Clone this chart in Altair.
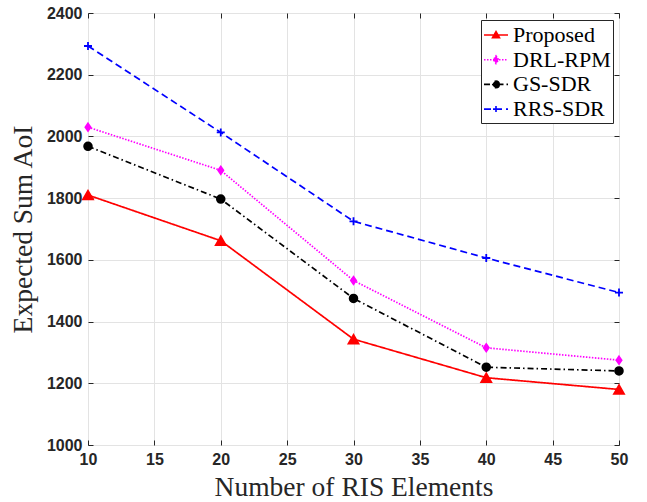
import altair as alt
import pandas as pd

x_vals = [10, 20, 30, 40, 50]
proposed = [1810, 1662, 1343, 1218, 1180]
drl_rpm = [2030, 1890, 1533, 1315, 1275]
gs_sdr = [1968, 1797, 1475, 1252, 1240]
rrs_sdr = [2293, 2013, 1725, 1606, 1494]

series_names = ["Proposed", "DRL-RPM", "GS-SDR", "RRS-SDR"]
colors = ["#FF0000", "#FF00FF", "#000000", "#0000FF"]
dashes = [[1, 0], [1.5, 1.5], [6, 3, 1.5, 3], [7, 4]]
x_ticks = [10, 15, 20, 25, 30, 35, 40, 45, 50]
y_ticks = [1000, 1200, 1400, 1600, 1800, 2000, 2200, 2400]

rows = []
for name, vals in zip(series_names, [proposed, drl_rpm, gs_sdr, rrs_sdr]):
    for xv, yv in zip(x_vals, vals):
        rows.append({"x": xv, "y": yv, "series": name})
df = pd.DataFrame(rows)

DIAMOND = "M0,-1L0.7,0L0,1L-0.7,0Z"
PLUS = "M-1,0L1,0M0,-1L0,1"
point_shapes = ["triangle-up", DIAMOND, "circle", PLUS]
point_sizes = [100, 56, 60, 64]

leg_paths = {
    "Proposed": "M-1,0L1,0M0,-0.28L0.29,0.22L-0.29,0.22Z",
    "DRL-RPM": "M-1,0L1,0M0,-0.32L0.22,0L0,0.32L-0.22,0Z",
    "GS-SDR": "M-1,0L1,0M0.27,0A0.27,0.27,0,1,1,-0.27,0A0.27,0.27,0,1,1,0.27,0Z",
    "RRS-SDR": "M-1,0L1,0M-0.25,0L0.25,0M0,-0.25L0,0.25",
}
shape_expr = " : ".join(
    [f"datum.value === '{k}' ? '{v}'" for k, v in leg_paths.items()]
) + " : 'circle'"
fill_expr = " : ".join(
    [f"datum.value === '{k}' ? '{c}'" for k, c in zip(series_names, colors)]
) + " : 'black'"
dash_expr = " : ".join(
    [f"datum.value === '{k}' ? [{','.join(str(v) for v in d)}]" for k, d in zip(series_names, dashes)]
) + " : [1,0]"

AX = "#262626"
GRID = "#e3e3e3"
LABEL_FONT = "Liberation Sans"
TITLE_FONT = "Liberation Serif"

x_scale = alt.Scale(domain=[10, 50], nice=False, zero=False)
y_scale = alt.Scale(domain=[1000, 2400], nice=False, zero=False)

x_axis = alt.Axis(
    values=x_ticks, format="d", domain=False, offset=-5, tickSize=5,
    tickColor=AX, tickWidth=1, labelFont=LABEL_FONT, labelFontWeight="bold",
    labelFontSize=16, labelColor=AX, labelPadding=6, labelFlush=False,
    grid=True, gridColor=GRID, gridWidth=1,
    title="Number of RIS Elements", titleFont=TITLE_FONT, titleFontSize=27.5,
    titleFontWeight="normal", titleColor=AX, titlePadding=6,
)
y_axis = alt.Axis(
    values=y_ticks, format="d", domain=False, offset=-5, tickSize=5,
    tickColor=AX, tickWidth=1, labelFont=LABEL_FONT, labelFontWeight="bold",
    labelFontSize=16, labelColor=AX, labelPadding=6, labelFlush=False,
    grid=True, gridColor=GRID, gridWidth=1,
    title="Expected Sum AoI", titleFont=TITLE_FONT, titleFontSize=27.5,
    titleFontWeight="normal", titleColor=AX, titlePadding=9,
)
x_axis2 = alt.Axis(
    orient="top", values=x_ticks, domain=False, offset=-5, tickSize=5,
    tickColor=AX, labels=False, grid=False, title=None,
)
y_axis2 = alt.Axis(
    orient="right", values=y_ticks, domain=False, offset=-5, tickSize=5,
    tickColor=AX, labels=False, grid=False, title=None,
)

legend = alt.Legend(
    title=None, orient="none", legendX=393, legendY=7,
    fillColor="white", strokeColor=AX, padding=2, rowPadding=0.7,
    symbolSize=576, symbolStrokeWidth=1.6, symbolOffset=0,
    symbolType=alt.ExprRef(expr=shape_expr),
    symbolFillColor=alt.ExprRef(expr=fill_expr),
    symbolStrokeColor=alt.ExprRef(expr=fill_expr),
    symbolDash=alt.ExprRef(expr=dash_expr),
    labelFont=TITLE_FONT, labelFontSize=22, labelColor="black", labelOffset=4,
    labelLimit=200, cornerRadius=0,
)

base = alt.Chart(df)

lines = base.mark_line(strokeWidth=1.7).encode(
    x=alt.X("x:Q", scale=x_scale, axis=x_axis),
    y=alt.Y("y:Q", scale=y_scale, axis=y_axis),
    color=alt.Color("series:N", scale=alt.Scale(domain=series_names, range=colors), legend=legend),
    strokeDash=alt.StrokeDash("series:N", scale=alt.Scale(domain=series_names, range=dashes), legend=legend),
)

point_layers = []
for name, col, shp, sz in zip(series_names, colors, point_shapes, point_sizes):
    point_layers.append(
        base.transform_filter(alt.datum.series == name).mark_point(
            filled=True, opacity=1, shape=shp, size=sz, fill=col, stroke=col, strokeWidth=1.8,
        ).encode(
            x=alt.X("x:Q", scale=x_scale, axis=None),
            y=alt.Y("y:Q", scale=y_scale, axis=None),
        )
    )

frame = base.mark_point(opacity=0).encode(
    x=alt.X("x:Q", scale=x_scale, axis=x_axis2),
    y=alt.Y("y:Q", scale=y_scale, axis=y_axis2),
)

chart = alt.layer(lines, *point_layers, frame).resolve_axis(
    x="independent", y="independent"
).properties(
    width=531, height=432,
    autosize=alt.AutoSizeParams(type="none"),
    padding={"left": 88, "top": 13, "right": 28, "bottom": 57},
    background="white",
).configure_view(stroke=AX, strokeWidth=1)

chart.save("out.html", embed_options={"renderer": "svg", "actions": False})
